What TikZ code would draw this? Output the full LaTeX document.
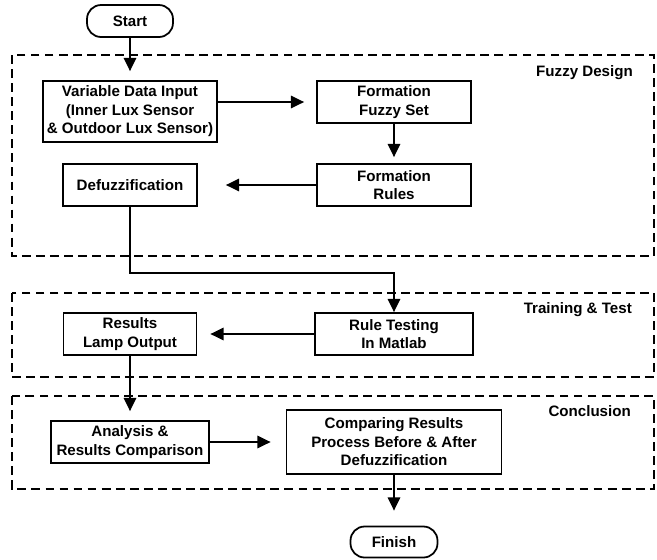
\documentclass[tikz,border=0pt]{standalone}
\usepackage{fontspec}
\setmainfont{Liberation Sans}
\usetikzlibrary{arrows.meta}
\begin{document}
\begin{tikzpicture}[x=0.02cm, y=-0.02cm, >={Triangle[length=7.5pt,width=7pt]},
    box/.style={draw, line width=1pt, align=center, inner sep=0pt,
        font=\bfseries\fontsize{8.6}{10.5}\selectfont},
    term/.style={box, rounded corners=8pt},
    frame/.style={draw, line width=1pt, dash pattern=on 5pt off 3pt},
    title/.style={anchor=east, font=\bfseries\fontsize{8.6}{10.5}\selectfont},
    link/.style={->, line width=1.1pt}]
\useasboundingbox (0,0) rectangle (657,559);

\draw[frame] (12,55) rectangle (654,256);
\draw[frame] (12,293) rectangle (654,377);
\draw[frame] (12,396) rectangle (654,489);
\node[title] (tfuzzy) at (639,73) {Fuzzy Design};
\node[title] (ttrain) at (638,310) {Training \& Test};
\node[title] (tconcl) at (637,411) {Conclusion};

\node[term, minimum width=1.72cm, minimum height=0.64cm] (start) at (130,21) {Start};
\node[box, minimum width=3.48cm, minimum height=1.22cm] (input) at (130,111.5)
    {Variable Data Input\\(Inner Lux Sensor\\\& Outdoor Lux Sensor)};
\node[box, minimum width=3.08cm, minimum height=0.84cm] (fset) at (394,102) {Formation\\Fuzzy Set};
\node[box, minimum width=3.08cm, minimum height=0.84cm] (rules) at (394,185) {Formation\\Rules};
\node[box, minimum width=2.68cm, minimum height=0.84cm] (defuzz) at (130,185) {Defuzzification};
\node[box, minimum width=3.16cm, minimum height=0.84cm] (test) at (394,334) {Rule Testing\\In Matlab};
\node[box, minimum width=2.66cm, minimum height=0.84cm] (lamp) at (130,334) {Results\\Lamp Output};
\node[box, minimum width=3.16cm, minimum height=0.84cm] (analysis) at (130,442) {Analysis \&\\Results Comparison};
\node[box, minimum width=4.30cm, minimum height=1.28cm] (compare) at (394,442)
    {Comparing Results\\Process Before \& After\\Defuzzification};
\node[term, minimum width=1.74cm, minimum height=0.62cm] (finish) at (394,542) {Finish};
\coordinate (turn) at (394,273);

\draw[link, shorten >=0.18cm] (start.south) -- (input.north);
\draw[link, shorten >=0.24cm] (input.east |- fset.west) -- (fset.west);
\draw[link, shorten >=0.12cm] (fset.south) -- (rules.north);
\draw[link, shorten >=0.56cm] (rules.west) -- (defuzz.east);
\draw[link] (defuzz.south) |- (turn) -- (test.north);
\draw[link, shorten >=0.26cm] (test.west) -- (lamp.east);
\draw[link, shorten >=0.18cm] (lamp.south) -- (analysis.north);
\draw[link, shorten >=0.3cm] (analysis.east) -- (compare.west);
\draw[link, shorten >=0.3cm] (compare.south) -- (finish.north);
\end{tikzpicture}
\end{document}
